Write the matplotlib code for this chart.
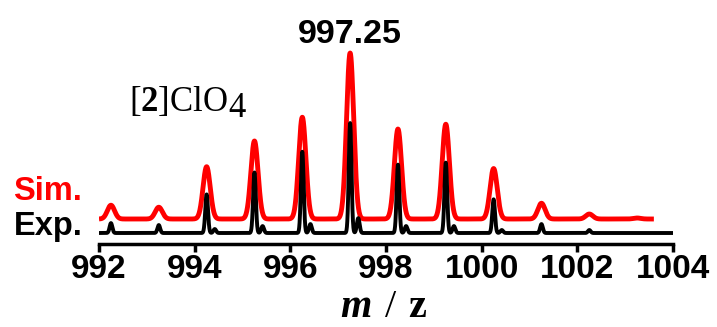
import numpy as np
import matplotlib.pyplot as plt

plt.rcParams['mathtext.fontset'] = 'custom'
plt.rcParams['mathtext.rm'] = 'Liberation Serif'
plt.rcParams['mathtext.bf'] = 'Liberation Serif:bold'
plt.rcParams['mathtext.it'] = 'Liberation Serif:italic'
plt.rcParams['mathtext.bfit'] = 'Liberation Serif:bold:italic'

# isotope pattern of [2]ClO4 (relative intensity, %)
sim_mz = [992.25, 993.25, 994.25, 995.25, 996.25, 997.25, 998.25, 999.25,
          1000.25, 1001.25, 1002.25, 1003.25]
sim_int = [8.3, 7.1, 31.5, 47.0, 61.3, 100.0, 54.2, 57.1, 30.4, 9.5, 3.0, 0.6]

exp_mz = [992.25, 993.25, 994.25, 995.25, 996.25, 997.25, 998.25, 999.25,
          1000.25, 1001.25, 1002.25]
exp_int = [9.0, 7.2, 35.1, 55.0, 73.9, 100.0, 62.2, 64.0, 30.6, 8.1, 2.7]
# small shoulder peaks next to the main isotopes
exp_side_mz = [994.42, 995.42, 996.42, 997.42, 998.42, 999.42, 1000.42]
exp_side_int = [3.6, 6.3, 8.1, 13.5, 6.3, 6.3, 2.7]

x_ticks = [992, 994, 996, 998, 1000, 1002, 1004]


def profile(x, centers, heights, sigma):
    y = np.zeros_like(x)
    for c, h in zip(centers, heights):
        y += h * np.exp(-0.5 * ((x - c) / sigma) ** 2)
    return y


fig = plt.figure(figsize=(7.17, 3.27), dpi=100)
ax = fig.add_axes([99 / 717, 83 / 327, 574 / 717, 223 / 327])

x_sim = np.linspace(992.0, 1003.6, 4000)
y_sim = 25 + 1.66 * profile(x_sim, sim_mz, sim_int, 0.075)
x_exp = np.linspace(992.0, 1004.0, 6000)
y_exp = 11 + 1.10 * (profile(x_exp, exp_mz, exp_int, 0.028)
                     + profile(x_exp, exp_side_mz, exp_side_int, 0.028))

ax.plot(x_sim, y_sim, color='#ff0000', lw=3.5, solid_capstyle='butt')
ax.plot(x_exp, y_exp, color='black', lw=2.8, solid_capstyle='butt')

ax.set_xlim(992, 1004)
ax.set_ylim(0, 223)
for s in ['left', 'right', 'top']:
    ax.spines[s].set_visible(False)
ax.spines['bottom'].set_linewidth(2.5)
ax.set_yticks([])
ax.set_xticks(x_ticks)
ax.tick_params(axis='x', direction='out', length=6, width=2.5, pad=1.5)
for lab in ax.get_xticklabels():
    lab.set_fontfamily('Liberation Sans')
    lab.set_fontweight('bold')
    lab.set_fontsize(24)

fig.text(384 / 717, 10 / 327, r'$\mathbfit{m}\;\,\mathrm{/}\;\,\mathbf{z}$',
         ha='center', va='baseline', fontsize=29)

ax.text(997.25, 201, '997.25', ha='center', va='baseline', fontsize=24.5,
        fontweight='bold', family='Liberation Sans')

t = ax.text(992.63, 133, r'[$\mathbf{2}$]ClO', ha='left', va='baseline',
            fontsize=25, family='Liberation Serif')
ax.annotate('4', xy=(1, 0), xycoords=t, xytext=(0, -4), textcoords='offset points',
            ha='left', va='bottom', fontsize=25, family='Liberation Serif')

ax.text(991.64, 44, 'Sim.', ha='right', va='baseline', fontsize=23.5,
        fontweight='bold', family='Liberation Sans', color='#ff0000', clip_on=False)
ax.text(991.66, 9, 'Exp.', ha='right', va='baseline', fontsize=23.5,
        fontweight='bold', family='Liberation Sans', color='black', clip_on=False)

fig.savefig('out.png', dpi=100)
